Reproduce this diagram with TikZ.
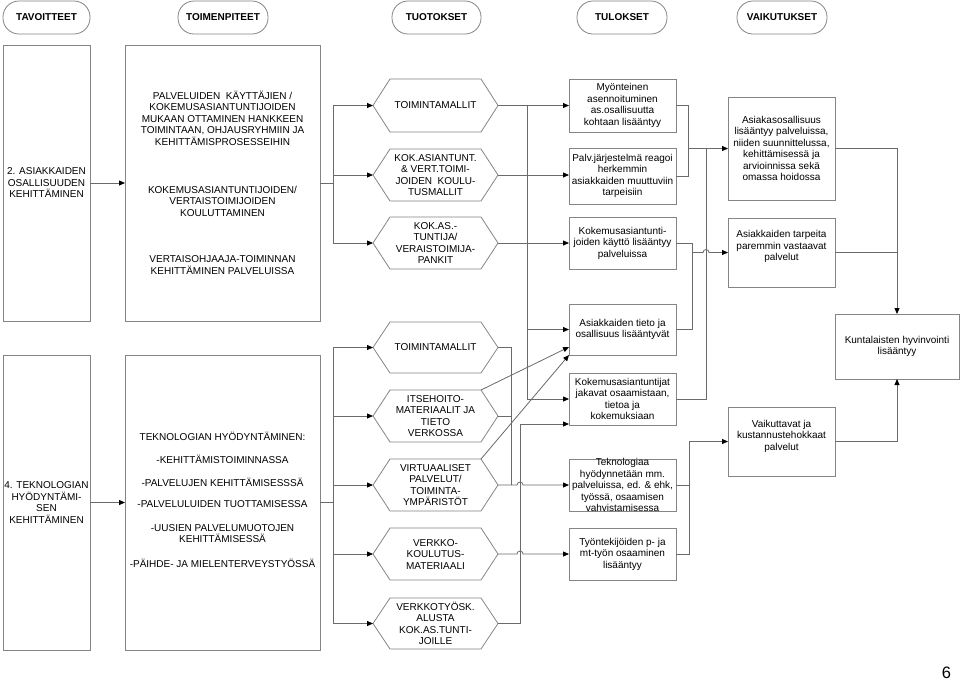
\documentclass[tikz,border=0pt]{standalone}
\usepackage{fontspec}
\setmainfont{Liberation Sans}
\usetikzlibrary{arrows.meta,calc}
\definecolor{lc}{HTML}{858585}
\definecolor{cc}{HTML}{6A6A6A}
\begin{document}
\begin{tikzpicture}[x=1pt,y=-1pt,
 txt/.style={font=\fontsize{10}{11.5}\selectfont, align=center, inner sep=0pt, outer sep=0pt},
 box/.style={txt, draw=lc, line width=0.8pt, rectangle},
 pill/.style={box, rounded corners=16pt, minimum width=#1, minimum height=33pt, font=\fontsize{10}{11}\selectfont\bfseries},
 hexa/.style={txt, rectangle, minimum width=125pt, minimum height=#1},
 rbox/.style={box, minimum width=107pt, minimum height=#1},
 con/.style={draw=cc, line width=0.8pt},
 arr/.style={con, -{Triangle[length=6pt,width=5pt,color=black]}},
 hexline/.style={draw=lc, line width=0.8pt}
]
\fill[white] (0,0) rectangle (960,681);
\useasboundingbox (0,0) rectangle (960,681);

% headers
\node[pill=87pt] (h1) at (46.5,17.5) {TAVOITTEET};
\node[pill=90pt] (h2) at (223,17.5) {TOIMENPITEET};
\node[pill=89pt] (h3) at (436.5,17.5) {TUOTOKSET};
\node[pill=90pt] (h4) at (622,17.5) {TULOKSET};
\node[pill=90pt] (h5) at (782,17.5) {VAIKUTUKSET};

% ---------- top section ----------
\node[box, minimum width=87pt, minimum height=276pt] (A) at (46.5,183) {2. ASIAKKAIDEN\\OSALLISUUDEN\\KEHITTÄMINEN};
\node[box, minimum width=195pt, minimum height=276pt] (B) at (222.5,183) {};
\node[txt] (b1) at (222.5,118) {PALVELUIDEN\ \ KÄYTTÄJIEN /\\KOKEMUSASIANTUNTIJOIDEN\\MUKAAN OTTAMINEN HANKKEEN\\TOIMINTAAN, OHJAUSRYHMIIN JA\\KEHITTÄMISPROSESSEIHIN};
\node[txt] (b2) at (222.5,201) {KOKEMUSASIANTUNTIJOIDEN/\\VERTAISTOIMIJOIDEN\\KOULUTTAMINEN};
\node[txt] (b3) at (222.5,265) {VERTAISOHJAAJA-TOIMINNAN\\KEHITTÄMINEN PALVELUISSA};

\node[hexa=53pt] (o1) at (435.5,105.5) {TOIMINTAMALLIT};
\node[hexa=52pt] (o2) at (435.5,175) {KOK.ASIANTUNT.\\\& VERT.TOIMI-\\JOIDEN\ \ KOULU-\\TUSMALLIT};
\node[hexa=52pt] (o3) at (435.5,243) {KOK.AS.-\\TUNTIJA/\\VERAISTOIMIJA-\\PANKIT};

\node[rbox=53pt] (r1) at (622.5,105.5) {Myönteinen\\asennoituminen\\as.osallisuutta\\kohtaan lisääntyy};
\node[rbox=56pt] (r2) at (622.5,176) {Palv.järjestelmä reagoi\\herkemmin\\asiakkaiden muuttuviin\\tarpeisiin};
\node[rbox=52pt] (r3) at (622.5,243) {Kokemusasiantunti-\\joiden käyttö lisääntyy\\palveluissa};
\node[rbox=51pt] (r4) at (622.5,329.5) {Asiakkaiden tieto ja\\osallisuus lisääntyvät};
\node[rbox=52pt] (r5) at (622.5,399) {Kokemusasiantuntijat\\jakavat osaamistaan,\\tietoa ja\\kokemuksiaan};
\node[rbox=52pt] (r6) at (622.5,485) {};
\node[txt] (r6t) at (622.5,485) {Teknologiaa\\hyödynnetään mm.\\palveluissa, ed. \& ehk,\\työssä, osaamisen\\vahvistamisessa};
\node[rbox=52pt] (r7) at (622.5,554) {Työntekijöiden p- ja\\mt-työn osaaminen\\lisääntyy};

\node[rbox=103pt] (V1) at (781.5,148.5) {Asiakasosallisuus\\lisääntyy palveluissa,\\niiden suunnittelussa,\\kehittämisessä ja\\arvioinnissa sekä\\omassa hoidossa};
\node[rbox=69pt] (V2) at (781.5,252.5) {};
\node[txt] (V2t) at (781.5,246.5) {Asiakkaiden tarpeita\\paremmin vastaavat\\palvelut};
\node[rbox=69pt] (V3) at (781.5,441.5) {};
\node[txt] (V3t) at (781.5,436) {Vaikuttavat ja\\kustannustehokkaat\\palvelut};
\node[box, minimum width=124pt, minimum height=65pt] (K) at (897,346.5) {Kuntalaisten hyvinvointi\\lisääntyy};

% ---------- bottom section ----------
\node[box, minimum width=87pt, minimum height=295pt] (C) at (46.5,502.5) {4. TEKNOLOGIAN\\HYÖDYNTÄMI-\\SEN\\KEHITTÄMINEN};
\node[box, minimum width=195pt, minimum height=295pt] (D) at (222.5,502.5) {};
\node[txt] (d1) at (222.5,436) {TEKNOLOGIAN HYÖDYNTÄMINEN:};
\node[txt] (d2) at (222.5,459) {-KEHITTÄMISTOIMINNASSA};
\node[txt] (d3) at (222.5,482) {-PALVELUJEN KEHITTÄMISESSSÄ};
\node[txt] (d4) at (222.5,504) {-PALVELULUIDEN TUOTTAMISESSA};
\node[txt] (d5) at (222.5,533.5) {-UUSIEN PALVELUMUOTOJEN\\KEHITTÄMISESSÄ};
\node[txt] (d6) at (222.5,563) {-PÄIHDE- JA MIELENTERVEYSTYÖSSÄ};

\node[hexa=51pt] (o4) at (435.5,347.5) {TOIMINTAMALLIT};
\node[hexa=52pt] (o5) at (435.5,416) {ITSEHOITO-\\MATERIAALIT JA\\TIETO\\VERKOSSA};
\node[hexa=52pt] (o6) at (435.5,485) {VIRTUAALISET\\PALVELUT/\\TOIMINTA-\\YMPÄRISTÖT};
\node[hexa=52pt] (o7) at (435.5,554) {VERKKO-\\KOULUTUS-\\MATERIAALI};
\node[hexa=51pt] (o8) at (435.5,623.5) {VERKKOTYÖSK.\\ALUSTA\\KOK.AS.TUNTI-\\JOILLE};

\node[font=\fontsize{16.5}{18}\selectfont, inner sep=0pt] (pg) at (946.5,672.5) {6};

% hexagon outlines
\foreach \n in {o1,o2,o3,o4,o5,o6,o7,o8}
  \draw[hexline] (\n.west) -- ([xshift=17pt]\n.north west) -- ([xshift=-17pt]\n.north east) -- (\n.east) -- ([xshift=-17pt]\n.south east) -- ([xshift=17pt]\n.south west) -- cycle;

% ---------- connectors top ----------
\draw[arr] (A.east) -- (B.west);
\coordinate (jb) at (333,183);
\draw[con] (B.east) -- (jb);
\draw[con] (jb |- o1.west) -- (jb |- o3.west);
\foreach \n in {o1,o2,o3} \draw[arr] (jb |- \n.west) -- (\n.west);

\coordinate (bus) at (527,105.5);
\draw[con] (bus) -- (bus |- r5.west);
\draw[arr] (o1.east) -- (r1.west);
\draw[arr] (o2.east) -- (o2.east -| r2.west);
\draw[arr] (o3.east) -- (r3.west);
\draw[arr] (bus |- r4.west) -- (r4.west);
\draw[arr] (bus |- r5.west) -- (r5.west);

\coordinate (ja) at (688,148.5);
\draw[con] (r1.east) -- ++(12,0) |- (r2.east);
\draw[arr] (ja) -- (V1.west);
\coordinate (jc) at (706,148.5);
\draw[con] (r5.east) -| (jc);
\draw[con] (r3.east) -- ++(16,0) |- (r4.east);
\coordinate (jd) at (692,252.5);
\coordinate (hp1) at (703,252.5);
\draw[arr] (jd) -- (hp1) arc[start angle=180, end angle=0, radius=3pt] -- (V2.west);

\draw[arr] (V1.east) -| (K.north);
\draw[con] (V2.east) -- (V2.east -| K.north);
\draw[arr] (V3.east) -| (K.south);

\draw[con] (r6.east) -- ++(13,0) |- (r7.east);
\coordinate (je) at (689,441.5);
\draw[arr] (je |- r6.east) -- (je) -- (V3.west);

% ---------- connectors bottom ----------
\draw[arr] (C.east) -- (D.west);
\coordinate (jf) at (333,502.5);
\draw[con] (D.east) -- (jf);
\draw[con] (jf |- o4.west) -- (jf |- o8.west);
\foreach \n in {o4,o5,o6,o7,o8} \draw[arr] (jf |- \n.west) -- (\n.west);

\coordinate (jg) at (511,347.5);
\draw[con] (o4.east) -- (jg) -- (jg |- o6.east);
\draw[con] (o5.east) -- (o5.east -| jg);
\coordinate (h6) at (517,485);
\coordinate (h7) at (517,554);
\draw[arr] (o6.east) -- (h6) arc[start angle=180, end angle=0, radius=3pt] -- (r6.west);
\draw[arr] (o7.east) -- (h7) arc[start angle=180, end angle=0, radius=3pt] -- (r7.west);
\coordinate (hv) at (520,424);
\draw[arr] (o8.east) -| (hv) -- (hv -| r5.west);

\draw[arr] ([xshift=-17pt]o5.north east) -- ([yshift=8pt]r4.south west);
\draw[arr] ([xshift=-17pt]o6.north east) -- (r4.south west);
\end{tikzpicture}
\end{document}
